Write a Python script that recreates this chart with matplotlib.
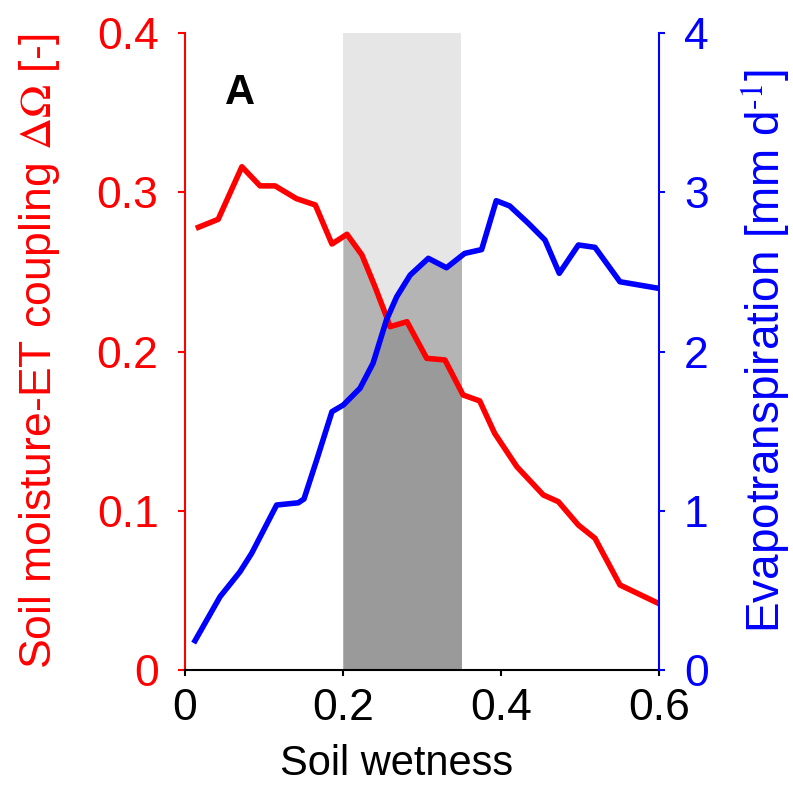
import numpy as np
import matplotlib
matplotlib.use("Agg")
import matplotlib.pyplot as plt

plt.rcParams['font.family'] = ['Liberation Sans', 'DejaVu Sans']
plt.rcParams['mathtext.fontset'] = 'stix'

# soil moisture - ET coupling (red, left axis)
x_coup = [0.017, 0.042, 0.072, 0.095, 0.114, 0.141, 0.165, 0.186, 0.205, 0.224,
          0.2405, 0.255, 0.2595, 0.281, 0.306, 0.329, 0.352, 0.373, 0.392, 0.42,
          0.4536, 0.4726, 0.498, 0.519, 0.5506, 0.599]
coupling = [0.278, 0.283, 0.316, 0.304, 0.304, 0.296, 0.292, 0.2675, 0.2736, 0.2606,
            0.2407, 0.2219, 0.2156, 0.2187, 0.1957, 0.1947, 0.1727, 0.169, 0.1486, 0.1277,
            0.1099, 0.1057, 0.091, 0.0827, 0.0534, 0.0419]

# evapotranspiration (blue, right axis)
x_et = [0.0127, 0.0443, 0.0696, 0.0844, 0.116, 0.1434, 0.1506, 0.1667, 0.186, 0.2004,
        0.2215, 0.238, 0.255, 0.268, 0.285, 0.308, 0.331, 0.354, 0.3755, 0.394,
        0.411, 0.4346, 0.4557, 0.4738, 0.498, 0.519, 0.5506, 0.599]
et = [0.184, 0.46, 0.617, 0.733, 1.036, 1.05, 1.074, 1.319, 1.622, 1.664,
      1.769, 1.926, 2.198, 2.344, 2.48, 2.585, 2.526, 2.616, 2.64, 2.947,
      2.914, 2.805, 2.70, 2.491, 2.669, 2.654, 2.438, 2.397]

span = (0.2, 0.35)
x_ticks = [0, 0.2, 0.4, 0.6]
x_labels = ['0', '0.2', '0.4', '0.6']
y1_ticks = [0, 0.1, 0.2, 0.3, 0.4]
y1_labels = ['0', '0.1', '0.2', '0.3', '0.4']
y2_ticks = [0, 1, 2, 3, 4]
y2_labels = ['0', '1', '2', '3', '4']

fs = 32
fig = plt.figure(figsize=(7.93, 8.0), dpi=100)
ax = fig.add_axes([0.2333, 0.1625, 0.5977, 0.79625])
ax2 = ax.twinx()

# shaded band: light on top, mid-gray under the higher curve, dark under both
xs = np.linspace(span[0], span[1], 300)
r_i = np.interp(xs, x_coup, coupling)
b_i = np.interp(xs, x_et, et) / 10.0
ax.axvspan(span[0], span[1], color='#e6e6e6', lw=0, zorder=0)
ax.fill_between(xs, 0, np.maximum(r_i, b_i), color='#b4b4b4', lw=0, zorder=1)
ax.fill_between(xs, 0, np.minimum(r_i, b_i), color='#9a9a9a', lw=0, zorder=2)

ax.plot(x_coup, coupling, color='red', lw=4, zorder=3)
ax2.plot(x_et, et, color='blue', lw=4)

ax.set_xlim(0, 0.6)
ax.set_ylim(0, 0.4)
ax2.set_ylim(0, 4)

ax.set_xticks(x_ticks)
ax.set_xticklabels(x_labels)
ax.set_yticks(y1_ticks)
ax.set_yticklabels(y1_labels)
ax2.set_yticks(y2_ticks)
ax2.set_yticklabels(y2_labels)

for a in (ax, ax2):
    a.spines['top'].set_visible(False)
    a.patch.set_visible(False)
ax2.spines['left'].set_visible(False)
ax2.spines['bottom'].set_visible(False)
ax.spines['right'].set_visible(False)
ax.spines['left'].set_color('red')
ax.spines['left'].set_linewidth(1.5)
ax.spines['bottom'].set_linewidth(1.5)
ax2.spines['right'].set_color('blue')
ax2.spines['right'].set_linewidth(1.5)

ax.tick_params(axis='x', direction='out', length=4, width=1.5, labelsize=fs, pad=9)
ax.tick_params(axis='y', direction='out', length=5, width=1.5, colors='red', labelsize=fs, pad=14)
ax2.tick_params(axis='y', direction='out', length=4, width=1.5, colors='blue', labelsize=fs, pad=14)

ax.set_xlabel('Soil wetness', fontsize=30, labelpad=8)
ax.xaxis.set_label_coords(0.446, -0.116)
ax.set_ylabel(r'Soil moisture-ET coupling $\Delta\Omega$ [-]', fontsize=fs, color='red', labelpad=25)
ax2.set_ylabel(r'Evapotranspiration [mm d$^{\text{-1}}$]', fontsize=33, color='blue', labelpad=22)

ax.text(0.116, 0.906, 'A', transform=ax.transAxes, fontsize=30, fontweight='bold',
        va='center', ha='center')

fig.savefig('out.png', dpi=100)
